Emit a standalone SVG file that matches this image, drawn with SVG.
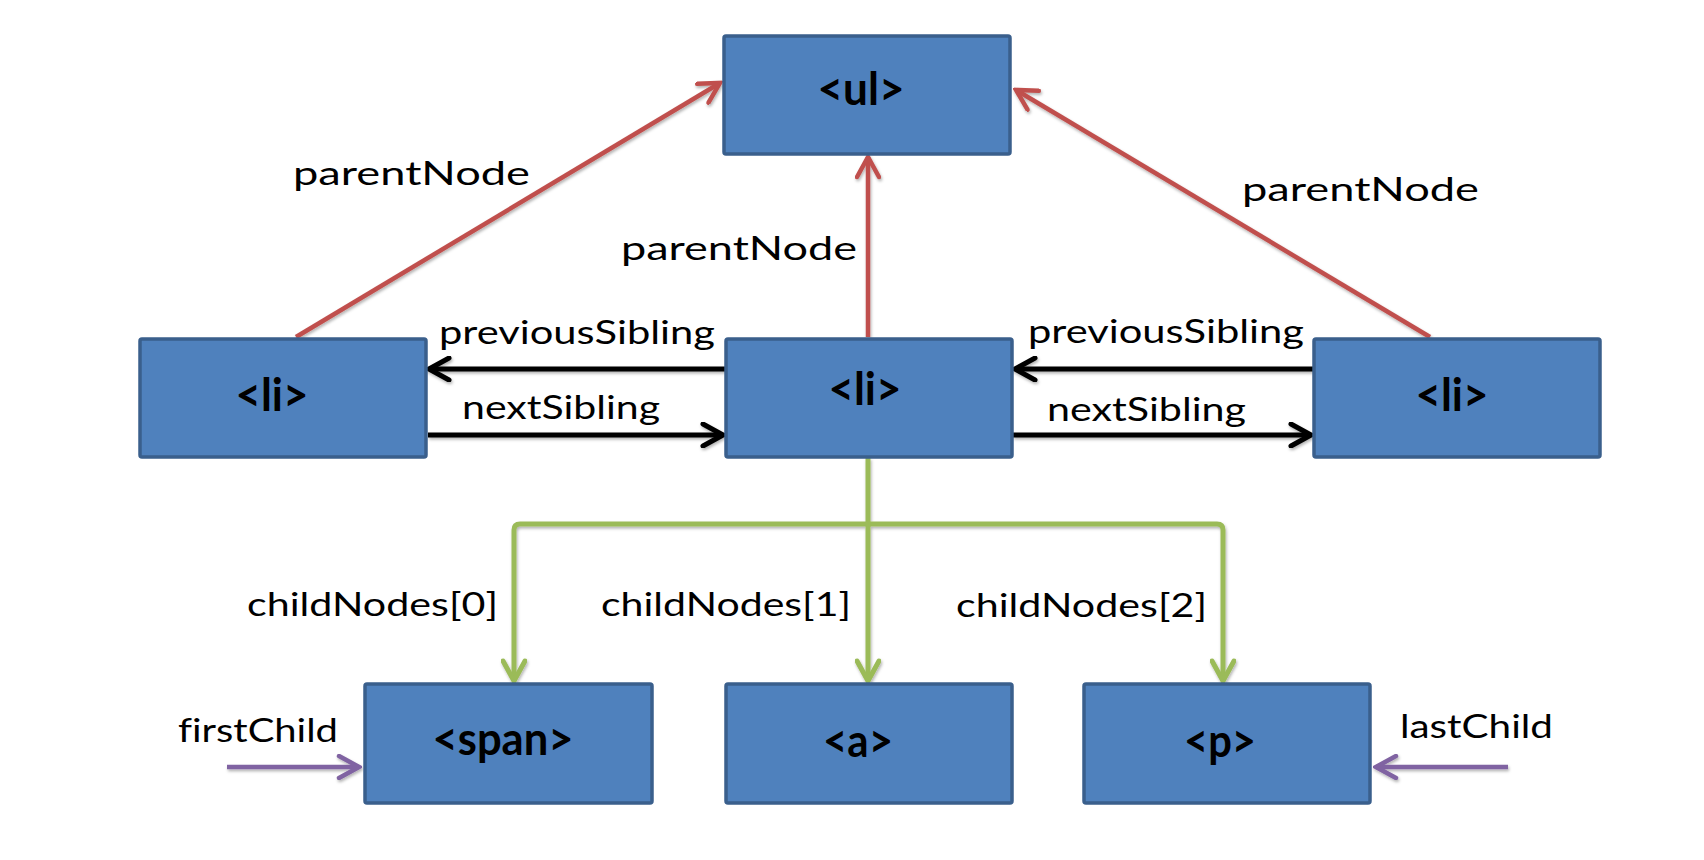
<svg xmlns="http://www.w3.org/2000/svg" width="1704" height="860" viewBox="0 0 1704 860">
  <style>
    .box { fill: #4F81BD; stroke: #3A5F8C; stroke-width: 3.5; }
    .nt { font-family: Lato, "Liberation Sans", sans-serif; font-weight: bold; font-size: 45px; fill: #000; text-anchor: middle; }
    .lb { font-family: Lato, "Liberation Sans", sans-serif; font-size: 33px; fill: #000; font-variant-ligatures: none; }
    .red { stroke: #C0504D; stroke-width: 4.5; fill: none; marker-end: url(#mRed); }
    .blk { stroke: #000; stroke-width: 5; fill: none; marker-end: url(#mBlk); }
    .grn { stroke: #9BBB59; stroke-width: 5; fill: none; }
    .prp { stroke: #8064A2; stroke-width: 4.5; fill: none; marker-end: url(#mPrp); }
  </style>
  <defs>
    <filter id="sh" x="-10%" y="-10%" width="120%" height="120%">
      <feDropShadow dx="1" dy="2" stdDeviation="1.5" flood-color="#000" flood-opacity="0.3"/>
    </filter>
    <marker id="mRed" markerUnits="userSpaceOnUse" viewBox="0 0 26 26" markerWidth="26" markerHeight="26" refX="23" refY="13" orient="auto">
      <path d="M3,2 L23,13 L3,24" fill="none" stroke="#C0504D" stroke-width="4.5" stroke-linecap="round" stroke-linejoin="miter"/>
    </marker>
    <marker id="mBlk" markerUnits="userSpaceOnUse" viewBox="0 0 26 26" markerWidth="26" markerHeight="26" refX="23" refY="13" orient="auto">
      <path d="M3,2 L23,13 L3,24" fill="none" stroke="#000" stroke-width="5" stroke-linecap="round" stroke-linejoin="miter"/>
    </marker>
    <marker id="mGrn" markerUnits="userSpaceOnUse" viewBox="0 0 26 26" markerWidth="26" markerHeight="26" refX="23" refY="13" orient="auto">
      <path d="M3,2 L23,13 L3,24" fill="none" stroke="#9BBB59" stroke-width="5" stroke-linecap="round" stroke-linejoin="miter"/>
    </marker>
    <marker id="mPrp" markerUnits="userSpaceOnUse" viewBox="0 0 26 26" markerWidth="26" markerHeight="26" refX="23" refY="13" orient="auto">
      <path d="M3,2 L23,13 L3,24" fill="none" stroke="#8064A2" stroke-width="4.5" stroke-linecap="round" stroke-linejoin="miter"/>
    </marker>
  </defs>
  <rect width="1704" height="860" fill="#fff"/>

  <g id="connectors" filter="url(#sh)">
    <path class="red" d="M296,337 L720,83"/>
    <path class="red" d="M868,337 L868,157"/>
    <path class="red" d="M1430,337 L1016,90"/>
    <path class="blk" d="M725,369 L429,369"/>
    <path class="blk" d="M428,435 L723,435"/>
    <path class="blk" d="M1313,369 L1015,369"/>
    <path class="blk" d="M1013,435 L1311,435"/>
    <path class="grn" d="M868,458 L868,524 L520,524 Q514,524 514,530 L514,681" marker-end="url(#mGrn)"/>
    <path class="grn" d="M868,524 L868,681" marker-end="url(#mGrn)"/>
    <path class="grn" d="M868,524 L1217,524 Q1223,524 1223,530 L1223,681" marker-end="url(#mGrn)"/>
    <path class="prp" d="M227,767 L359,767"/>
    <path class="prp" d="M1508,767 L1376,767"/>
  </g>

  <g id="labels">
    <text class="lb" x="293" y="185" textLength="237" lengthAdjust="spacingAndGlyphs">parentNode</text>
    <text class="lb" x="621" y="260" textLength="236" lengthAdjust="spacingAndGlyphs">parentNode</text>
    <text class="lb" x="1242" y="201" textLength="237" lengthAdjust="spacingAndGlyphs">parentNode</text>
    <text class="lb" x="439" y="344" textLength="276" lengthAdjust="spacingAndGlyphs">previousSibling</text>
    <text class="lb" x="1028" y="343" textLength="276" lengthAdjust="spacingAndGlyphs">previousSibling</text>
    <text class="lb" x="462" y="419" textLength="198" lengthAdjust="spacingAndGlyphs">nextSibling</text>
    <text class="lb" x="1047" y="421" textLength="199" lengthAdjust="spacingAndGlyphs">nextSibling</text>
    <text class="lb" x="247" y="616" textLength="251" lengthAdjust="spacingAndGlyphs">childNodes[0]</text>
    <text class="lb" x="601" y="616" textLength="250" lengthAdjust="spacingAndGlyphs">childNodes[1]</text>
    <text class="lb" x="956" y="617" textLength="251" lengthAdjust="spacingAndGlyphs">childNodes[2]</text>
    <text class="lb" x="178" y="742" textLength="160" lengthAdjust="spacingAndGlyphs">firstChild</text>
    <text class="lb" x="1400" y="738" textLength="153" lengthAdjust="spacingAndGlyphs">lastChild</text>
  </g>

  <g id="node-ul">
    <rect class="box" x="724" y="36" width="286" height="118" rx="2"/>
    <text class="nt" x="861" y="105" textLength="87" lengthAdjust="spacingAndGlyphs">&lt;ul&gt;</text>
  </g>
  <g id="node-li-left">
    <rect class="box" x="140" y="339" width="286" height="118" rx="2"/>
    <text class="nt" x="272" y="411" textLength="73" lengthAdjust="spacingAndGlyphs">&lt;li&gt;</text>
  </g>
  <g id="node-li-mid">
    <rect class="box" x="726" y="339" width="286" height="118" rx="2"/>
    <text class="nt" x="865" y="405" textLength="73" lengthAdjust="spacingAndGlyphs">&lt;li&gt;</text>
  </g>
  <g id="node-li-right">
    <rect class="box" x="1314" y="339" width="286" height="118" rx="2"/>
    <text class="nt" x="1452" y="411" textLength="73" lengthAdjust="spacingAndGlyphs">&lt;li&gt;</text>
  </g>
  <g id="node-span">
    <rect class="box" x="365" y="684" width="287" height="119" rx="2"/>
    <text class="nt" x="503" y="755" textLength="141" lengthAdjust="spacingAndGlyphs">&lt;span&gt;</text>
  </g>
  <g id="node-a">
    <rect class="box" x="726" y="684" width="286" height="119" rx="2"/>
    <text class="nt" x="858" y="757" textLength="70" lengthAdjust="spacingAndGlyphs">&lt;a&gt;</text>
  </g>
  <g id="node-p">
    <rect class="box" x="1084" y="684" width="286" height="119" rx="2"/>
    <text class="nt" x="1220" y="757" textLength="72" lengthAdjust="spacingAndGlyphs">&lt;p&gt;</text>
  </g>
</svg>
